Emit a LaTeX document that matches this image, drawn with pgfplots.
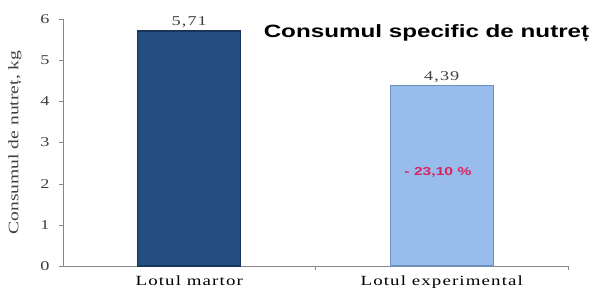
\documentclass[border=0pt]{standalone}
\usepackage{fontspec}
\setmainfont{Liberation Serif}[FakeStretch=1.35]
\newfontfamily\catfont{Liberation Serif}[FakeStretch=1.35, LetterSpace=8]
\newfontfamily\titlefont{Liberation Sans}[FakeStretch=1.36]
\usepackage{pgfplots}
\pgfplotsset{compat=1.18}
\definecolor{darkbar}{RGB}{36,77,129}
\definecolor{darkedge}{RGB}{24,52,90}
\definecolor{lightbar}{RGB}{152,188,235}
\definecolor{lightedge}{RGB}{112,145,190}
\definecolor{redtxt}{RGB}{220,35,95}
\definecolor{axgray}{RGB}{135,135,135}
\begin{document}
\begin{tikzpicture}
\begin{axis}[
  scale only axis,
  width=505pt, height=247pt,
  xmin=-0.5, xmax=1.5,
  ymin=0, ymax=6,
  axis x line*=bottom,
  axis y line*=left,
  axis line style={axgray},
  ytick={0,1,2,3,4,5,6},
  xtick={0.5,1.5},
  xticklabels={},
  extra x ticks={0,1},
  extra x tick labels={Lotul martor, Lotul experimental},
  extra x tick style={major tick length=0pt},
  major tick length=4pt,
  tick style={axgray},
  tick align=outside,
  /pgf/number format/assume math mode=true,
  yticklabel style={font=\fontsize{13.5}{13}\selectfont, text=black!75, xshift=-6pt},
  xticklabel style={font=\catfont\fontsize{14}{14}\selectfont, text=black, yshift=-6pt},
  ylabel={Consumul de nutreț, kg},
  ylabel style={font=\fontsize{14.5}{14}\selectfont, text=black!75, yshift=12pt},
  ybar, bar width=103pt,
  clip=false,
]
\addplot[fill=darkbar, draw=darkedge, line width=1.2pt, bar shift=0pt] coordinates {(0,5.71)};
\addplot[fill=lightbar, draw=lightedge, line width=1.2pt, bar shift=0pt] coordinates {(1,4.39)};
\node[above, font=\catfont\fontsize{13.5}{13}\selectfont, text=black!75, inner sep=3pt] at (axis cs:0,5.71) {5,71};
\node[above, font=\catfont\fontsize{13.5}{13}\selectfont, text=black!75, inner sep=3pt] at (axis cs:1,4.39) {4,39};
\node[font=\titlefont\bfseries\fontsize{17.8}{17.8}\selectfont, anchor=east, inner sep=0pt] at (axis cs:1.585,5.66) {Consumul specific de nutreț};
\node[font=\titlefont\bfseries\fontsize{11.5}{11.5}\selectfont, text=redtxt] at (axis cs:0.985,2.28) {- 23,10 \%};
\coordinate (O) at (axis cs:-0.5,0);
\end{axis}
\path (O) ++(-63pt,-28pt) rectangle ++(602pt,294pt);
\end{tikzpicture}
\end{document}
